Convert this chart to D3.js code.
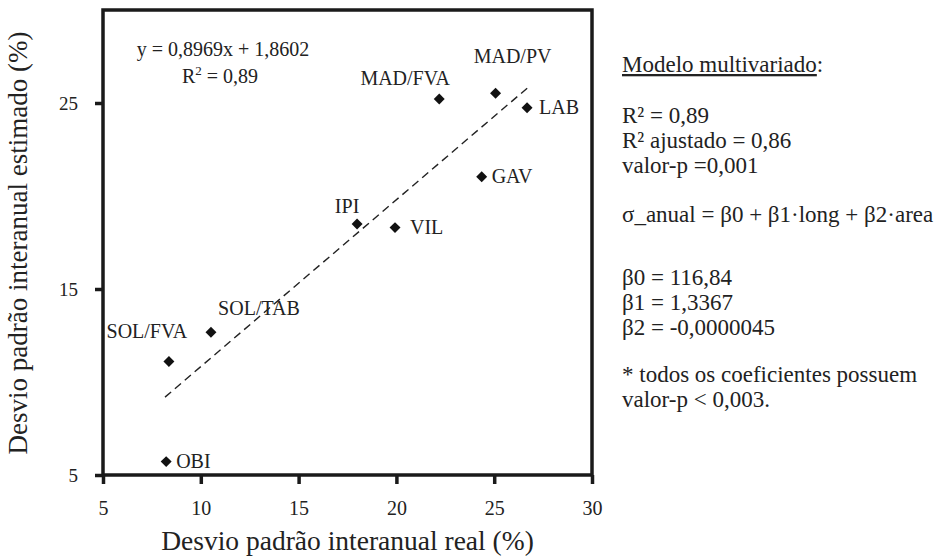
<!DOCTYPE html>
<html><head><meta charset="utf-8">
<script src="https://cdn.jsdelivr.net/npm/d3@7"></script>
<style>body{margin:0;background:#fff}svg{display:block}text{font-family:"Liberation Serif","Times New Roman",serif;fill:#222}</style>
</head><body><svg id="c" width="944" height="556"></svg>
<script>
const names = ["OBI","SOL/FVA","SOL/TAB","IPI","VIL","MAD/FVA","MAD/PV","LAB","GAV"];
const realVals = [8.23, 8.37, 10.52, 17.99, 19.93, 22.19, 25.07, 26.68, 24.36];
const estVals  = [5.72, 11.1, 12.67, 18.5, 18.3, 25.22, 25.52, 24.75, 21.04];
const xTicks = [5, 10, 15, 20, 25, 30];
const yTicks = [5, 15, 25];
const slope = 0.8969, intercept = 1.8602;
const trendRange = [8.17, 26.74];
const eqText = "y = 0,8969x + 1,8602";
const r2Text = "0,89";
const modelTitle = "Modelo multivariado";
const modelGroups = [
  ["R² = 0,89","R² ajustado = 0,86","valor-p =0,001"],
  ["σ_anual = β0 + β1·long + β2·area"],
  ["β0 = 116,84","β1 = 1,3367","β2 = -0,0000045"],
  ["* todos os coeficientes possuem","valor-p < 0,003."]
];

// layout
const labelPos = {"OBI":[10,6,"start"],"SOL/FVA":[-22,-24,"middle"],"SOL/TAB":[48,-17,"middle"],"IPI":[-10,-11,"middle"],"VIL":[15,6,"start"],"MAD/FVA":[-34,-14,"middle"],"MAD/PV":[17,-30,"middle"],"LAB":[12,6,"start"],"GAV":[10,6,"start"]};
const groupTop = [123, 222, 285, 382];
const lineH = 25;

const svg = d3.select("#c");
const L=103, R=592, T=10, B=475;
const x = d3.scaleLinear().domain([5,30]).range([L,R]);
const y = d3.scaleLinear().domain([5,30]).range([B,T]);

// frame
svg.append("rect").attr("x",L).attr("y",T).attr("width",R-L).attr("height",B-T)
  .attr("fill","none").attr("stroke","#1a1a1a").attr("stroke-width",3.5);

const xa = svg.append("g").attr("transform",`translate(0,${B})`)
  .call(d3.axisBottom(x).tickValues(xTicks).tickSize(9).tickPadding(17).tickFormat(d3.format("d")));
const ya = svg.append("g").attr("transform",`translate(${L},0)`)
  .call(d3.axisLeft(y).tickValues(yTicks).tickSize(8).tickPadding(17).tickFormat(d3.format("d")));
[xa,ya].forEach(a=>{a.select(".domain").remove();a.selectAll("line").attr("stroke","#1a1a1a").attr("stroke-width",3.5);
  a.selectAll("text").attr("font-family","Liberation Serif").attr("fill","#222");});
xa.selectAll("text").attr("font-size",20);
ya.selectAll("text").attr("font-size",19);

// trend line
svg.append("line").attr("x1",x(trendRange[0])).attr("y1",y(slope*trendRange[0]+intercept))
  .attr("x2",x(trendRange[1])).attr("y2",y(slope*trendRange[1]+intercept))
  .attr("stroke","#222").attr("stroke-width",1.4).attr("stroke-dasharray","8,5");

// points
const sym = d3.symbol().type(d3.symbolSquare).size(60);
svg.selectAll("path.pt").data(names).join("path").attr("class","pt")
  .attr("d",sym).attr("fill","#111")
  .attr("transform",(d,i)=>`translate(${x(realVals[i])},${y(estVals[i])}) rotate(45)`);
svg.selectAll("text.lb").data(names).join("text").attr("class","lb")
  .attr("x",(d,i)=>x(realVals[i])+labelPos[d][0]).attr("y",(d,i)=>y(estVals[i])+labelPos[d][1])
  .attr("text-anchor",d=>labelPos[d][2]).attr("font-size",20).text(d=>d);

// equation
svg.append("text").attr("x",223).attr("y",56).attr("text-anchor","middle").attr("font-size",20).text(eqText);
const r2 = svg.append("text").attr("x",220).attr("y",83).attr("text-anchor","middle").attr("font-size",20);
r2.append("tspan").text("R");
r2.append("tspan").attr("dy",-8).attr("font-size",13).text("2");
r2.append("tspan").attr("dy",8).text(" = "+r2Text);

// axis titles
svg.append("text").attr("x",(L+R)/2).attr("y",550).attr("text-anchor","middle").attr("font-size",27.5).text("Desvio padrão interanual real (%)");
svg.append("text").attr("transform","translate(27,243) rotate(-90)").attr("text-anchor","middle").attr("font-size",27).text("Desvio padrão interanual estimado (%)");

// model text
const mt = svg.append("text").attr("x",622).attr("y",72).attr("font-size",23);
mt.append("tspan").attr("text-decoration","underline").text(modelTitle);
mt.append("tspan").text(":");
modelGroups.forEach((g,gi)=>{
  svg.append("g").selectAll("text").data(g).join("text")
    .attr("x",622).attr("y",(d,i)=>groupTop[gi]+i*lineH).attr("font-size",23).text(d=>d);
});
</script></body></html>
